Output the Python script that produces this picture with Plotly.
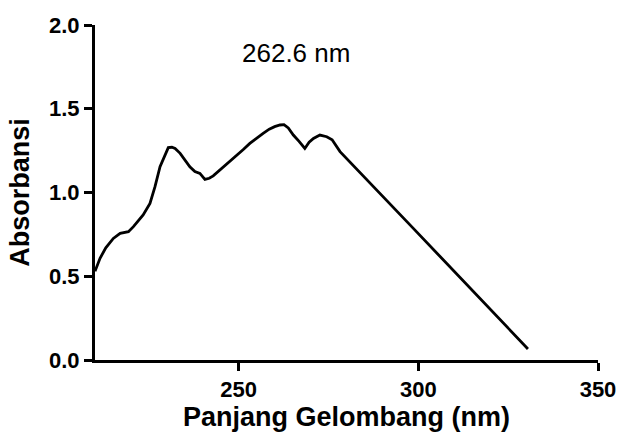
import plotly.graph_objects as go

wavelength = [210.0, 211.4, 213.0, 215.1, 217.0, 219.3, 220.7, 222.0, 223.4, 225.3, 226.7, 228.1,
              229.5, 230.4, 231.4, 232.3, 233.7, 235.0, 236.4, 237.8, 239.2, 240.6, 241.8, 242.9,
              244.3, 245.7, 247.5, 249.4, 251.2, 253.1, 255.0, 256.8, 258.5, 260.0, 261.5, 262.6,
              263.8, 265.2, 266.8, 268.4, 269.6, 270.8, 272.6, 274.5, 276.0, 278.2, 298.6, 330.5]
absorbance = [0.530, 0.607, 0.670, 0.726, 0.756, 0.766, 0.796, 0.830, 0.866, 0.935, 1.035, 1.154,
              1.230, 1.268, 1.270, 1.263, 1.234, 1.195, 1.154, 1.125, 1.114, 1.078, 1.085, 1.099,
              1.125, 1.154, 1.186, 1.218, 1.255, 1.293, 1.325, 1.353, 1.378, 1.393, 1.403, 1.405,
              1.385, 1.343, 1.305, 1.263, 1.300, 1.323, 1.343, 1.333, 1.315, 1.244, 0.786, 0.066]

peak_label = "262.6 nm"
x_title = "Panjang Gelombang (nm)"
y_title = "Absorbansi"
x_ticks = [250, 300, 350]
y_ticks = [0.0, 0.5, 1.0, 1.5, 2.0]

FONT = "Liberation Sans, Arial"

fig = go.Figure()
fig.add_trace(go.Scatter(x=wavelength, y=absorbance, mode="lines",
                         line=dict(color="black", width=2.8), showlegend=False))

fig.add_annotation(x=0.4, y=1.83, xref="x domain", yref="y", text=peak_label,
                   showarrow=False, font=dict(family=FONT, size=26, color="black"))

axis_common = dict(showline=True, linecolor="black", linewidth=3, ticks="outside",
                   ticklen=8, tickwidth=3, tickcolor="black", showgrid=False, zeroline=False,
                   tickfont=dict(family=FONT, size=22, color="black", weight="bold"),
                   mirror=False, automargin=False)

fig.update_xaxes(range=[210, 350], tickvals=x_ticks, ticktext=[str(v) for v in x_ticks],
                 title=dict(text=x_title, standoff=6,
                            font=dict(family=FONT, size=27, color="black", weight="bold")),
                 **axis_common)
fig.update_yaxes(range=[0, 2.0], tickvals=y_ticks, ticktext=[f"{v:.1f}" for v in y_ticks],
                 title=dict(text=y_title, standoff=12,
                            font=dict(family=FONT, size=27, color="black", weight="bold")),
                 **axis_common)

fig.update_layout(width=618, height=436, margin=dict(l=95, r=20, t=25, b=76),
                  plot_bgcolor="white", paper_bgcolor="white")

fig.write_html("out.html", config={"displayModeBar": False},
               post_script="document.body.style.margin='0';document.body.style.overflow='hidden';")
